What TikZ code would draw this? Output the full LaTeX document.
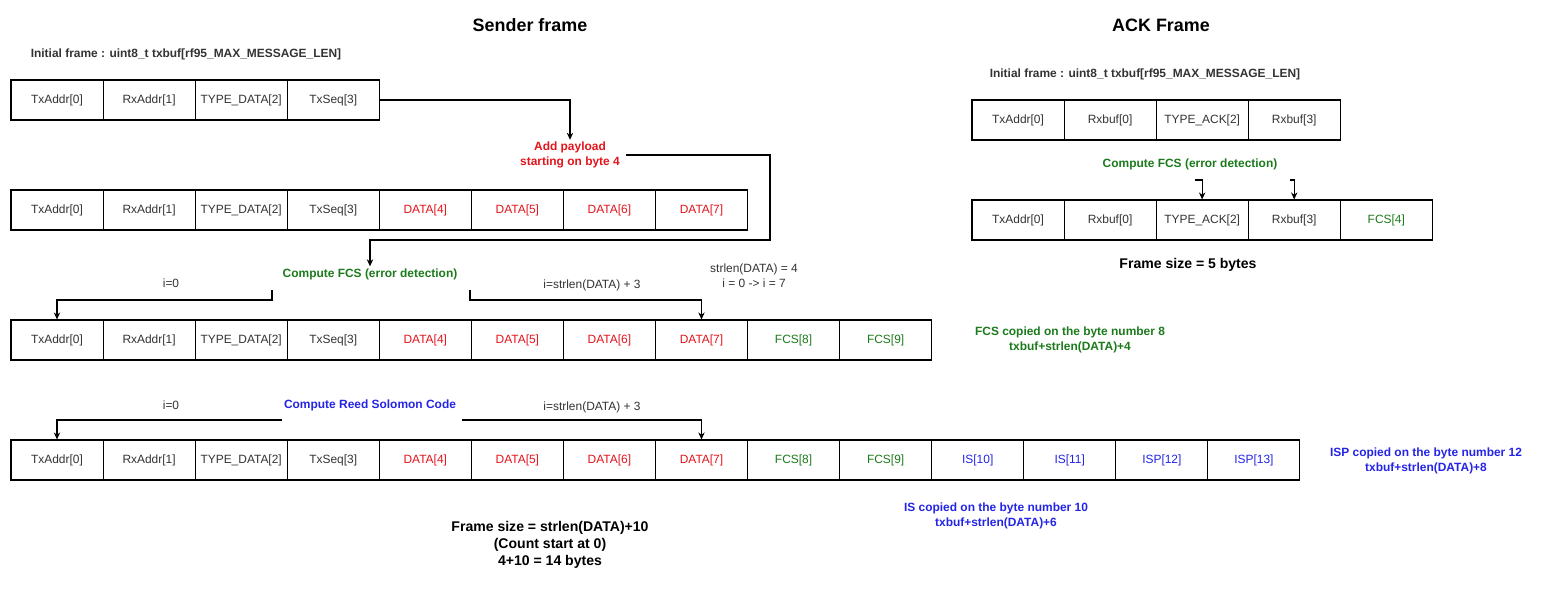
\documentclass[tikz,border=0pt]{standalone}
\usepackage{fontspec}
\setmainfont{Liberation Sans}
\usetikzlibrary{arrows.meta}

\definecolor{txtgray}{HTML}{333333}
\definecolor{datared}{HTML}{E3141B}
\definecolor{fcsgreen}{HTML}{1B7A1B}
\definecolor{rsblue}{HTML}{2424E6}

\tikzset{
  cell/.style={draw, line width=0.6pt, minimum width=1.8414cm, minimum height=0.8cm,
    inner sep=0pt, font=\fontsize{6.8}{8}\selectfont},
  lbl/.style={font=\fontsize{6.8}{8.5}\selectfont, align=center, inner sep=1pt},
  blbl/.style={font=\fontsize{6.8}{8.5}\selectfont\bfseries, align=center, inner sep=1pt},
  bigblbl/.style={font=\fontsize{8}{9.6}\selectfont\bfseries, align=center, inner sep=1pt},
  bigtitle/.style={font=\fontsize{10.2}{12}\selectfont\bfseries},
  arr/.style={-{Stealth[length=4pt,width=3.6pt]}, line width=0.6pt},
}

\begin{document}
\begin{tikzpicture}[x=0.02cm,y=-0.02cm]
        \useasboundingbox (0,0) rectangle (1541,591);

        %%%%%%% Titoli %%%%%%%
        \node[bigtitle] (sendtitle) at (530,25) {Sender frame};
        \node[bigtitle] (acktitle) at (1161,25) {ACK Frame};
        \node[blbl, text=txtgray] (sendinit) at (186,54) {Initial frame : uint8\_t txbuf[rf95\_MAX\_MESSAGE\_LEN]};
        \node[blbl, text=txtgray] (ackinit) at (1145,74) {Initial frame : uint8\_t txbuf[rf95\_MAX\_MESSAGE\_LEN]};

        %%%%%%% Frame 1 %%%%%%%
        \foreach \txt/\col [count=\i from 0] in {TxAddr[0]/txtgray, RxAddr[1]/txtgray,
            TYPE\_DATA[2]/txtgray, TxSeq[3]/txtgray}
            \node[cell, text=\col] (r1c\i) at ({57+92.07*\i},100) {\txt};

        %%%%%%% Frame 2 %%%%%%%
        \foreach \txt/\col [count=\i from 0] in {TxAddr[0]/txtgray, RxAddr[1]/txtgray,
            TYPE\_DATA[2]/txtgray, TxSeq[3]/txtgray, DATA[4]/datared, DATA[5]/datared,
            DATA[6]/datared, DATA[7]/datared}
            \node[cell, text=\col] (r2c\i) at ({57+92.07*\i},210) {\txt};

        %%%%%%% Frame 3 %%%%%%%
        \foreach \txt/\col [count=\i from 0] in {TxAddr[0]/txtgray, RxAddr[1]/txtgray,
            TYPE\_DATA[2]/txtgray, TxSeq[3]/txtgray, DATA[4]/datared, DATA[5]/datared,
            DATA[6]/datared, DATA[7]/datared, FCS[8]/fcsgreen, FCS[9]/fcsgreen}
            \node[cell, text=\col] (r3c\i) at ({57+92.07*\i},340) {\txt};

        %%%%%%% Frame 4 %%%%%%%
        \foreach \txt/\col [count=\i from 0] in {TxAddr[0]/txtgray, RxAddr[1]/txtgray,
            TYPE\_DATA[2]/txtgray, TxSeq[3]/txtgray, DATA[4]/datared, DATA[5]/datared,
            DATA[6]/datared, DATA[7]/datared, FCS[8]/fcsgreen, FCS[9]/fcsgreen,
            IS[10]/rsblue, IS[11]/rsblue, ISP[12]/rsblue, ISP[13]/rsblue}
            \node[cell, text=\col] (r4c\i) at ({57+92.07*\i},460) {\txt};

        %%%%%%% ACK frame %%%%%%%
        \foreach \txt/\col [count=\i from 0] in {TxAddr[0]/txtgray, Rxbuf[0]/txtgray,
            TYPE\_ACK[2]/txtgray, Rxbuf[3]/txtgray}
            \node[cell, text=\col] (a1c\i) at ({1018+92.07*\i},120) {\txt};
        \foreach \txt/\col [count=\i from 0] in {TxAddr[0]/txtgray, Rxbuf[0]/txtgray,
            TYPE\_ACK[2]/txtgray, Rxbuf[3]/txtgray, FCS[4]/fcsgreen}
            \node[cell, text=\col] (a2c\i) at ({1018+92.07*\i},220) {\txt};

        %%%%%%% Etichette %%%%%%%
        \node[blbl, text=datared, inner xsep=3.5pt] (payload) at (570,155) {Add payload\\starting on byte 4};
        \node[blbl, text=fcsgreen] (fcslbl) at (370,274) {Compute FCS (error detection)};
        \node[lbl, text=txtgray] (izeroA) at (171,283) {i=0};
        \node[lbl, text=txtgray] (istrlenA) at (592,285) {i=strlen(DATA) + 3};
        \node[lbl, text=txtgray] (strlenlbl) at (754,276) {strlen(DATA) = 4\\i = 0 -> i = 7};
        \node[blbl, text=fcsgreen] (fcscopy) at (1070,340) {FCS copied on the byte number 8\\txbuf+strlen(DATA)+4};

        \node[blbl, text=rsblue] (rslbl) at (370,405) {Compute Reed Solomon Code};
        \node[lbl, text=txtgray] (izeroB) at (171,405) {i=0};
        \node[lbl, text=txtgray] (istrlenB) at (592,407) {i=strlen(DATA) + 3};
        \node[blbl, text=rsblue] (ispcopy) at (1426,461) {ISP copied on the byte number 12\\txbuf+strlen(DATA)+8};
        \node[blbl, text=rsblue] (iscopy) at (996,516) {IS copied on the byte number 10\\txbuf+strlen(DATA)+6};
        \node[bigblbl] (framesize) at (550,545) {Frame size = strlen(DATA)+10\\(Count start at 0)\\4+10 = 14 bytes};

        \node[blbl, text=fcsgreen] (ackfcs) at (1190,164) {Compute FCS (error detection)};
        \node[bigblbl] (ackframesize) at (1188,265) {Frame size = 5 bytes};

        %%%%%%% Frecce %%%%%%%
        \coordinate (bendA) at (770,240);
        \coordinate (fcsL) at (272,290);
        \coordinate (fcsR) at (470,290);
        \coordinate (rsL) at (282,420);
        \coordinate (rsR) at (462,420);
        \coordinate (ackL) at (1195,180);
        \coordinate (ackR) at (1290,180);

        \draw[arr] (r1c3.east) -| (payload.north);
        \draw[arr] (payload.east) -| (bendA) -| (fcslbl.north);
        \draw[arr] (fcsL) -- ++(0,10) -| (r3c0.north);
        \draw[arr] (fcsR) -- ++(0,10) -| (r3c7.north);
        \draw[arr] (rsL) -| (r4c0.north);
        \draw[arr] (rsR) -| (r4c7.north);
        \draw[arr] (ackL) -| (a2c2.north);
        \draw[arr] (ackR) -| (a2c3.north);
\end{tikzpicture}
\end{document}
